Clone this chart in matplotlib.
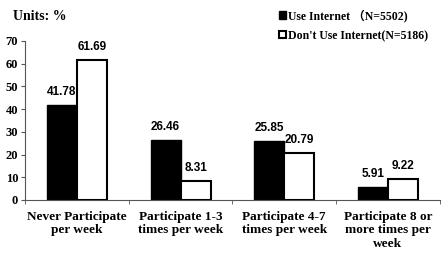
import matplotlib.pyplot as plt
import numpy as np

categories = ['Never Participate\nper week', 'Participate 1-3\ntimes per week',
              'Participate 4-7\ntimes per week', 'Participate 8 or\nmore times per\nweek']
use_internet = [41.78, 26.46, 25.85, 5.91]
no_internet = [61.69, 8.31, 20.79, 9.22]
labels = ['Use Internet \uff08N=5502)', "Don't Use Internet(N=5186)"]

serif = {'family': ['Liberation Serif', 'Noto Sans CJK SC'], 'weight': 'bold'}

fig = plt.figure(figsize=(4.47, 2.61), dpi=100)
ax = fig.add_axes([0.056, 0.234, 0.928, 0.609])

x = np.arange(len(categories))
w = 0.29
b1 = ax.bar(x - w / 2, use_internet, w, color='black', edgecolor='black', linewidth=1, label=labels[0])
b2 = ax.bar(x + w / 2, no_internet, w, color='white', edgecolor='black', linewidth=1.5, label=labels[1])

for bars, vals in [(b1, use_internet), (b2, no_internet)]:
    for r, v in zip(bars, vals):
        ax.text(r.get_x() + r.get_width() / 2, v + 3, f'{v:.2f}', ha='center', va='bottom',
                fontsize=8.5, fontweight='bold', family='Liberation Sans')

ax.set_xlim(-0.5, 3.5)
ax.set_ylim(0, 70)
ax.set_yticks(range(0, 71, 10))
ax.set_yticklabels([str(v) for v in range(0, 71, 10)], fontdict=serif, fontsize=9)
ax.set_xticks(x)
ax.set_xticklabels(categories, fontdict=serif, fontsize=9.5, linespacing=1.15)
ax.tick_params(axis='x', length=0, pad=8)
ax.set_xticks([-0.5, 0.5, 1.5, 2.5, 3.5], minor=True)
ax.tick_params(axis='x', which='minor', length=3, color='#555555')
ax.tick_params(axis='y', length=3, color='#555555', pad=2)
for s in ['top', 'right']:
    ax.spines[s].set_visible(False)
for s in ['left', 'bottom']:
    ax.spines[s].set_color('#555555')

fig.text(0.03, 0.925, 'Units: %', fontdict=serif, fontsize=10)
fig.legend(loc='upper left', bbox_to_anchor=(0.6, 1.005), frameon=False,
           prop={'family': ['Liberation Serif', 'Noto Sans CJK SC'], 'weight': 'bold', 'size': 8.5},
           handlelength=0.6, handleheight=0.6, handletextpad=0.15, labelspacing=0.65)

fig.savefig('out.png', dpi=100)
